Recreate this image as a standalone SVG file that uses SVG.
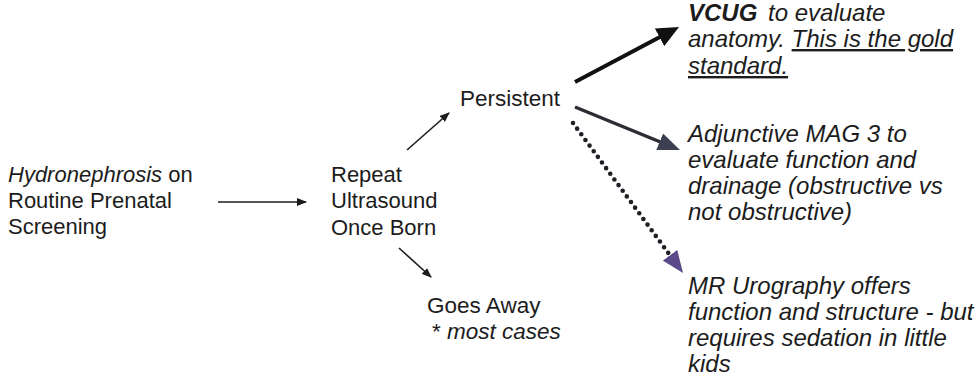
<svg xmlns="http://www.w3.org/2000/svg" width="980" height="377" viewBox="0 0 980 377">
  <style>
    text { font-family: "Liberation Sans", Arial, sans-serif; fill: #1c1c1c; }
    .l { font-size: 22px; }
    .m { font-size: 22.5px; }
    .r { font-size: 24px; font-style: italic; }
    .i { font-style: italic; }
    .b { font-weight: bold; }
    .u { text-decoration: underline; }
    .thin { stroke: #1c1c1c; stroke-width: 1.6; fill: none; }
  </style>
  <defs>
    <marker id="headSmall" markerUnits="userSpaceOnUse" markerWidth="10" markerHeight="8" refX="9" refY="4" orient="auto">
      <path d="M0,0 L10,4 L0,8 z" fill="#1c1c1c"/>
    </marker>
    <marker id="headBlack" markerUnits="userSpaceOnUse" markerWidth="22" markerHeight="20" refX="10" refY="10" orient="auto">
      <path d="M0,0 L22,10 L0,20 z" fill="#111"/>
    </marker>
    <marker id="headSlate" markerUnits="userSpaceOnUse" markerWidth="22" markerHeight="20" refX="10" refY="10" orient="auto">
      <path d="M0,1 L22,10 L0,19 z" fill="#3d4050"/>
    </marker>
    <marker id="headPurple" markerUnits="userSpaceOnUse" markerWidth="22" markerHeight="20" refX="10" refY="10" orient="auto">
      <path d="M0,1 L22,10 L0,19 z" fill="#5a4a8a"/>
    </marker>
  </defs>

  <g id="connectors">
    <line class="thin" x1="218" y1="202" x2="306" y2="202" marker-end="url(#headSmall)"/>
    <line class="thin" x1="407" y1="150" x2="449" y2="113" marker-end="url(#headSmall)"/>
    <line class="thin" x1="399" y1="248" x2="431" y2="277" marker-end="url(#headSmall)"/>
    <line x1="575" y1="82" x2="668.4" y2="32.6" stroke="#111" stroke-width="4" marker-end="url(#headBlack)"/>
    <line x1="575" y1="107" x2="668.9" y2="145.5" stroke="#2e2b33" stroke-width="3.5" marker-end="url(#headSlate)"/>
    <line x1="573" y1="123" x2="675.9" y2="263.3" stroke="#1e1e24" stroke-width="4.6" stroke-linecap="round" stroke-dasharray="0 7" marker-end="url(#headPurple)"/>
  </g>

  <g id="prenatal">
    <text class="l" x="8" y="182"><tspan class="i">Hydronephrosis</tspan> on</text>
    <text class="l" x="8" y="208">Routine Prenatal</text>
    <text class="l" x="8" y="234">Screening</text>
  </g>

  <g id="repeat">
    <text class="l" x="331" y="182">Repeat</text>
    <text class="l" x="331" y="208">Ultrasound</text>
    <text class="l" x="331" y="235">Once Born</text>
  </g>

  <g id="persistent">
    <text class="m" x="460" y="106">Persistent</text>
  </g>

  <g id="goes-away">
    <text class="m" x="427" y="313">Goes Away</text>
    <text class="m" x="432" y="339">* <tspan class="i">most cases</tspan></text>
  </g>

  <g id="vcug">
    <text class="r" x="688" y="21"><tspan class="b">VCUG</tspan><tspan x="768">to evaluate</tspan></text>
    <text class="r" x="688" y="47">anatomy. <tspan class="u">This is the gold</tspan></text>
    <text class="r" x="688" y="74"><tspan class="u">standard.</tspan></text>
  </g>

  <g id="mag3">
    <text class="r" x="688" y="142">Adjunctive MAG 3 to</text>
    <text class="r" x="688" y="168">evaluate function and</text>
    <text class="r" x="688" y="194">drainage (obstructive vs</text>
    <text class="r" x="688" y="220">not obstructive)</text>
  </g>

  <g id="mr-urography">
    <text class="r" x="688" y="294">MR Urography offers</text>
    <text class="r" x="688" y="320">function and structure - but</text>
    <text class="r" x="688" y="346">requires sedation in little</text>
    <text class="r" x="688" y="372">kids</text>
  </g>
</svg>
